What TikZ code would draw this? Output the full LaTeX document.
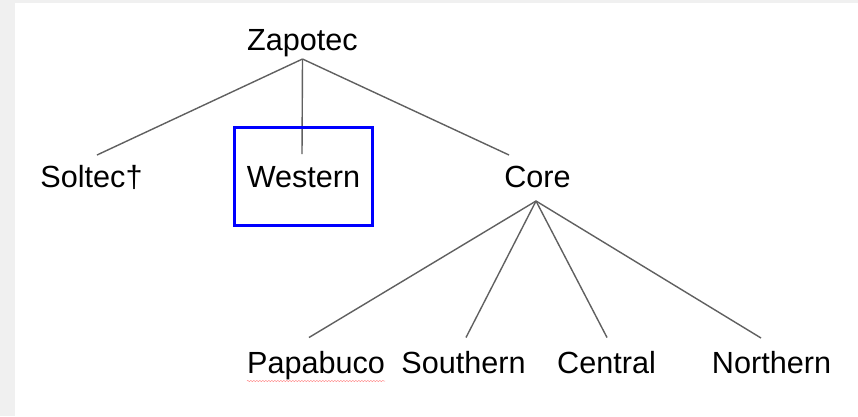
\documentclass[tikz,border=0pt]{standalone}
\usepackage{fontspec}
\setmainfont{Liberation Sans}
\usetikzlibrary{backgrounds,decorations.pathmorphing}
\definecolor{linegray}{RGB}{96,96,96}
\definecolor{pagegray}{RGB}{240,240,240}

\begin{document}
\begin{tikzpicture}[x=1pt, y=-1pt,
  lang/.style={anchor=base, inner sep=0pt, font=\fontsize{30.6}{36}\selectfont},
  focus/.style={draw=blue, line width=3pt, inner xsep=12pt, minimum height=98.5pt},
  branch/.style={-, draw=linegray, line width=1.4pt}]
% page
\begin{scope}[on background layer]
\fill[pagegray] (0,0) rectangle (858,416);
\fill[white] (15,3) rectangle (858,416);
\end{scope}
% family tree
\node[lang] (zap) at (302.5,50) {Zapotec};
\node[lang] (sol) at (91.5,187) {Soltec†};
\node[lang, focus] (west) at (303.5,187) {Western};
\node[lang] (core) at (537.5,187) {Core};
\node[lang] (papa) at (316,373) {Papabuco};
\node[lang] (south) at (463.5,373) {Southern};
\node[lang] (cent) at (606.5,373) {Central};
\node[lang] (north) at (771.5,373) {Northern};
\coordinate (zapfork) at ([yshift=-9pt]zap.base);
\coordinate (corefork) at ([xshift=-1.5pt,yshift=-14pt]core.base);
\begin{scope}[on background layer]
\path [branch] (zapfork) edge ([xshift=5.5pt,yshift=32pt]sol.base);
\path [branch] (zapfork) edge ([xshift=-1.5pt,yshift=33pt]west.base);
\path [branch] (zapfork) edge ([xshift=-28.5pt,yshift=32pt]core.base);
\path [branch] (corefork) edge ([xshift=-7pt,yshift=35.5pt]papa.base);
\path [branch] (corefork) edge ([xshift=2.5pt,yshift=35.5pt]south.base);
\path [branch] (corefork) edge ([xshift=0.5pt,yshift=35.5pt]cent.base);
\path [branch] (corefork) edge ([xshift=-10.5pt,yshift=35pt]north.base);
\end{scope}
% spell-check mark
\draw[red!45, line width=0.5pt, decorate, decoration={snake, amplitude=0.6pt, segment length=3pt}]
  ([yshift=-8pt]papa.base west) -- ([yshift=-8pt]papa.base east);
\end{tikzpicture}
\end{document}
